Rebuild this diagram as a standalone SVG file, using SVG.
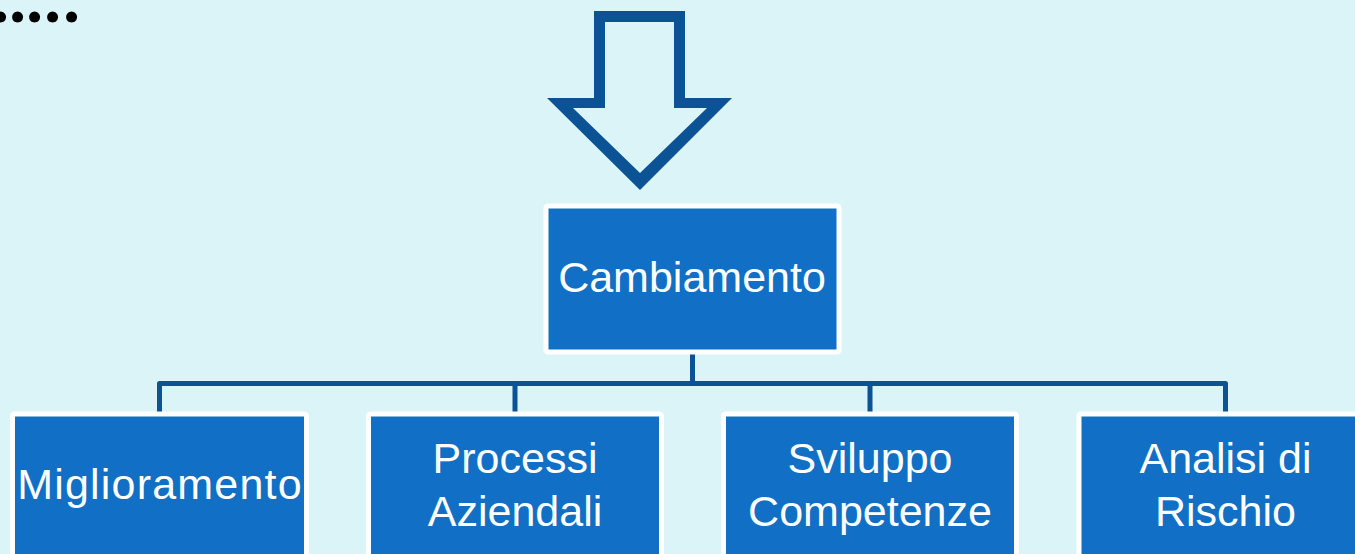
<svg xmlns="http://www.w3.org/2000/svg" width="1355" height="554" viewBox="0 0 1355 554">
<style>
.box{fill:#1170C5;stroke:#FFFFFF;stroke-width:5}
.lbl{font-family:"Liberation Sans",Arial,sans-serif;font-size:43px;fill:#FFFFFF;text-anchor:middle}
.conn{fill:none;stroke:#0B5394;stroke-width:5;stroke-linejoin:round}
</style>
<rect width="1355" height="554" fill="#DBF4F8"/>
<text x="-6 11 28 46 65" y="22" font-family="Lato,'Liberation Sans',sans-serif" font-size="72" font-weight="bold" font-style="italic" fill="#000000">.....</text>
<g id="arrow">
<path fill="#0B5394" fill-rule="evenodd" d="M594,11 L685,11 L685,98 L732,98 L640,190 L547,98 L594,98 Z M605,22 L605,108 L573,108 L640,173 L707,108 L674,108 L674,22 Z"/>
</g>
<g id="connectors">
<path class="conn" d="M692.5,354 V383.5"/>
<path class="conn" d="M159.5,412 V383.5 H1225.5 V412"/>
<path class="conn" d="M515,383.5 V412"/>
<path class="conn" d="M870,383.5 V412"/>
</g>
<g id="cambiamento">
<rect class="box" x="546" y="206" width="293" height="146" rx="2"/>
<text class="lbl" x="692" y="292">Cambiamento</text>
</g>
<g id="miglioramento">
<rect class="box" x="12.5" y="414" width="294" height="160" rx="2"/>
<text class="lbl" x="160" y="499" letter-spacing="1.2">Miglioramento</text>
</g>
<g id="processi">
<rect class="box" x="368.5" y="414" width="293" height="160" rx="2"/>
<text class="lbl" x="515" y="473">Processi</text>
<text class="lbl" x="515" y="526">Aziendali</text>
</g>
<g id="sviluppo">
<rect class="box" x="723.5" y="414" width="293" height="160" rx="2"/>
<text class="lbl" x="870" y="473">Sviluppo</text>
<text class="lbl" x="870" y="526">Competenze</text>
</g>
<g id="analisi">
<rect class="box" x="1079" y="414" width="293" height="160" rx="2"/>
<text class="lbl" x="1225.5" y="473">Analisi di</text>
<text class="lbl" x="1225.5" y="526">Rischio</text>
</g>
</svg>
